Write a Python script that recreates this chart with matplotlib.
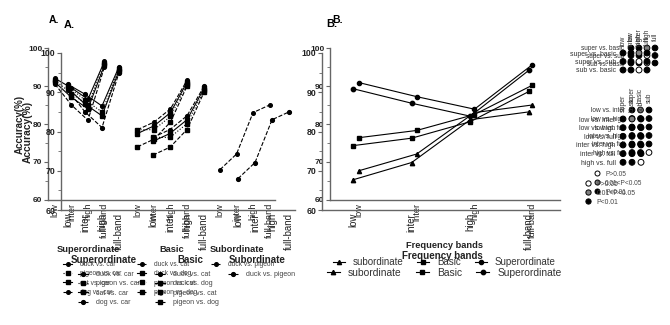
"""Accuracy per frequency band, drawn twice with a slight offset (ghosted figure)."""

import matplotlib

matplotlib.use("Agg")
import matplotlib.pyplot as plt
import numpy as np
from matplotlib.lines import Line2D

plt.rcParams["font.family"] = ["Liberation Sans", "DejaVu Sans"]

W, H = 670, 325

bands = ["low", "inter", "high", "full-band"]
groups = ["Superordinate", "Basic", "Subordinate"]

super_pairs = ["duck vs. car", "pigeon vs. car", "cat vs. car", "dog vs. car"]
super_acc = [
    [92.0, 89.5, 86.5, 96.5],
    [91.5, 88.0, 85.0, 96.0],
    [91.0, 87.0, 84.0, 95.5],
    [90.5, 85.0, 81.0, 95.0],
]
basic_pairs = ["duck vs. cat", "duck vs. dog", "pigeon vs. cat", "pigeon vs. dog"]
basic_acc = [
    [78.5, 80.5, 84.0, 91.5],
    [77.5, 79.5, 83.0, 91.0],
    [78.5, 78.5, 82.0, 90.5],
    [74.0, 76.0, 80.5, 90.0],
]
sub_pairs = ["duck vs. pigeon"]
sub_acc = [[68.0, 72.1, 83.0, 85.0]]

mean_labels = ["subordinate", "Basic", "Superordinate"]
mean_acc = [
    [67.7, 72.1, 83.0, 85.0],
    [76.4, 78.3, 82.5, 90.2],
    [90.9, 87.2, 83.9, 95.6],
]

contrast_rows = ["super vs. basic", "super vs. sub", "sub vs. basic"]
contrast_cols = ["low", "inter", "high", "full"]
contrast_p = [[2, 2, 1, 2], [2, 2, 0, 2], [2, 2, 0, 2]]

band_rows = ["low vs. inter", "low vs. high", "low vs. full",
             "inter vs. high", "inter vs. full", "high vs. full"]
band_cols = ["super", "basic", "sub"]
band_p = [[2, 1, 2], [2, 2, 2], [2, 2, 2], [2, 2, 2], [2, 2, 2], [2, 2, 0]]

p_labels = ["P>0.05", "0.01<P<0.05", "P<0.01"]
p_colors = ["white", "#808080", "black"]

# line styles for the pair-wise series (per group)
pair_styles = [
    [("-", "o"), (":", "s"), ("-", "s"), ("--", "o")],
    [("--", "o"), ("-", "s"), (":", "s"), ("--", "s")],
    [("--", "o")],
]
mean_markers = ["^", "s", "o"]

# two slightly different renderings of the same figure (pixel layout)
copies = [
    dict(s=1.0, A=(48, 48, 275, 200), Axlim=(-0.42, 13.33), ylab_x=25,
         B=(330, 48, 560, 200), Bxlim=(-0.50, 3.48),
         tA=(54, 20), tB=(338, 20), gy=249, gx=(88, 172, 237),
         leg_y=261, leg_x=(63, 137, 211), bleg=(333, 257), xlab=(445, 245),
         m1=(631, 8, 48, 7.5), m2=(632, 8.5, 110, 8.5), pleg=(592, 168)),
    dict(s=1.05, A=(61, 53, 295, 210), Axlim=(-0.41, 13.35), ylab_x=33,
         B=(322, 53, 560, 210), Bxlim=(-0.53, 3.53),
         tA=(69, 25), tB=(332, 24), gy=260, gx=(104, 190, 257),
         leg_y=271, leg_x=(78, 155, 228), bleg=(327, 268), xlab=(442, 256),
         m1=(623, 8, 53, 8.5), m2=(623, 9, 119, 8.66), pleg=(583, 178)),
]


def rect(x0, y0, x1, y1):
    return [x0 / W, 1 - y1 / H, (x1 - x0) / W, (y1 - y0) / H]


def fpos(x, y):
    return x / W, 1 - y / H


def style_axis(ax, s):
    for side in ("top", "right"):
        ax.spines[side].set_visible(False)
    for side in ("left", "bottom"):
        ax.spines[side].set_color("#666666")
        ax.spines[side].set_linewidth(1.0)
    ax.patch.set_visible(False)
    ax.set_ylim(60, 100)
    ax.set_yticks(np.arange(60, 101, 10))
    ax.set_yticks(np.arange(65, 100, 10), minor=True)
    ax.tick_params(axis="y", which="both", colors="#666666", labelcolor="#222222",
                   labelsize=6 * s, pad=1)
    ax.tick_params(axis="y", which="major", length=3, width=0.8)
    ax.tick_params(axis="y", which="minor", length=2, width=0.6)
    ax.tick_params(axis="x", length=0, labelsize=6.6 * s, labelrotation=90,
                   pad=2, labelcolor="#222222")
    for lab in ax.get_yticklabels():
        lab.set_fontweight("bold")


def draw_matrix(fig, values, rows, cols, x0, dx, y0, dy, s):
    nr, nc = len(rows), len(cols)
    ax = fig.add_axes(rect(x0 - dx / 2, y0 - dy / 2,
                           x0 + dx * (nc - 0.5), y0 + dy * (nr - 0.5)))
    ax.set_xlim(-0.5, nc - 0.5)
    ax.set_ylim(nr - 0.5, -0.5)
    vals = np.array(values)
    cc, rr = np.meshgrid(np.arange(nc), np.arange(nr))
    ax.scatter(cc.ravel(), rr.ravel(), s=17 * s,
               c=[p_colors[v] for v in vals.ravel()],
               edgecolors="black", linewidths=0.7, clip_on=False)
    ax.set_yticks(range(nr), rows)
    ax.set_xticks(range(nc), cols)
    ax.xaxis.tick_top()
    ax.tick_params(length=0, labelsize=4.7 * s, labelcolor="#333333", pad=2)
    ax.tick_params(axis="x", labelrotation=90)
    for sp in ax.spines.values():
        sp.set_visible(False)
    ax.patch.set_visible(False)


fig = plt.figure(figsize=(W / 100, H / 100), dpi=100)

for c in copies:
    s = c["s"]

    # ---- panel A: pair-wise accuracies per category level
    axA = fig.add_axes(rect(*c["A"]))
    style_axis(axA, s)
    axA.set_xlim(*c["Axlim"])
    ticks, ticklabels = [], []
    group_sets = [(super_pairs, super_acc), (basic_pairs, basic_acc), (sub_pairs, sub_acc)]
    for g, (pairs, accs) in enumerate(group_sets):
        xs = 5 * g + np.arange(len(bands))
        ticks += list(xs)
        ticklabels += bands
        handles = []
        for k, acc in enumerate(accs):
            ls, mk = pair_styles[g][k]
            (ln,) = axA.plot(xs, acc, color="black", ls=ls, lw=0.8, marker=mk,
                             ms=2.6 * s, mfc="black", mec="black")
            handles.append(ln)
        fig.text(*fpos(c["gx"][g], c["gy"]), groups[g], ha="center", va="center",
                 fontsize=6.7 * s, fontweight="bold", color="#222222")
        fig.legend(handles, pairs, loc="upper left",
                   bbox_to_anchor=fpos(c["leg_x"][g], c["leg_y"]),
                   frameon=False, fontsize=4.8 * s, handlelength=1.4,
                   handletextpad=1.2, labelspacing=0.35, borderpad=0,
                   borderaxespad=0, labelcolor="#444444")
    axA.set_xticks(ticks, ticklabels)
    axA.set_ylabel("Accuracy(%)", fontsize=7 * s, fontweight="bold", color="#222222")
    x0, _, x1, _ = c["A"]
    axA.yaxis.set_label_coords((c["ylab_x"] - x0) / (x1 - x0), 0.5)
    fig.text(*fpos(*c["tA"]), "A.", ha="center", va="center",
             fontsize=7.5 * s, fontweight="bold")

    # ---- panel B: mean accuracy per category level
    axB = fig.add_axes(rect(*c["B"]))
    style_axis(axB, s)
    axB.set_xlim(*c["Bxlim"])
    xs = np.arange(len(bands))
    bh = []
    for k, acc in enumerate(mean_acc):
        (ln,) = axB.plot(xs, acc, color="black", lw=0.8, marker=mean_markers[k],
                         ms=3 * s, mfc="black", mec="black")
        bh.append(ln)
    axB.set_xticks(xs, bands)
    fig.text(*fpos(*c["xlab"]), "Frequency bands", ha="center", va="center",
             fontsize=6.7 * s, fontweight="bold", color="#222222")
    fig.legend(bh, mean_labels, ncol=3, loc="upper left",
               bbox_to_anchor=fpos(*c["bleg"]), frameon=False, fontsize=7 * s,
               handlelength=1.25, handletextpad=0.8, columnspacing=1.4,
               borderpad=0, borderaxespad=0, labelcolor="#333333")
    fig.text(*fpos(*c["tB"]), "B.", ha="center", va="center",
             fontsize=7.5 * s, fontweight="bold")

    # ---- significance matrices
    draw_matrix(fig, contrast_p, contrast_rows, contrast_cols, *c["m1"], s)
    draw_matrix(fig, band_p, band_rows, band_cols, *c["m2"], s)

    ph = [Line2D([], [], ls="none", marker="o", ms=3.6 * s, mfc=col, mec="black",
                 mew=0.7) for col in p_colors]
    pleg = fig.legend(ph, p_labels, loc="upper left", bbox_to_anchor=fpos(*c["pleg"]),
                      frameon=True, fancybox=False, edgecolor="#888888",
                      fontsize=4.7 * s, handlelength=0.8, handletextpad=0.8,
                      labelspacing=0.3, borderpad=0.4, borderaxespad=0,
                      labelcolor="#444444", framealpha=0)
    pleg.get_frame().set_linewidth(0.6)

fig.savefig("out.png", dpi=100, facecolor="white")
